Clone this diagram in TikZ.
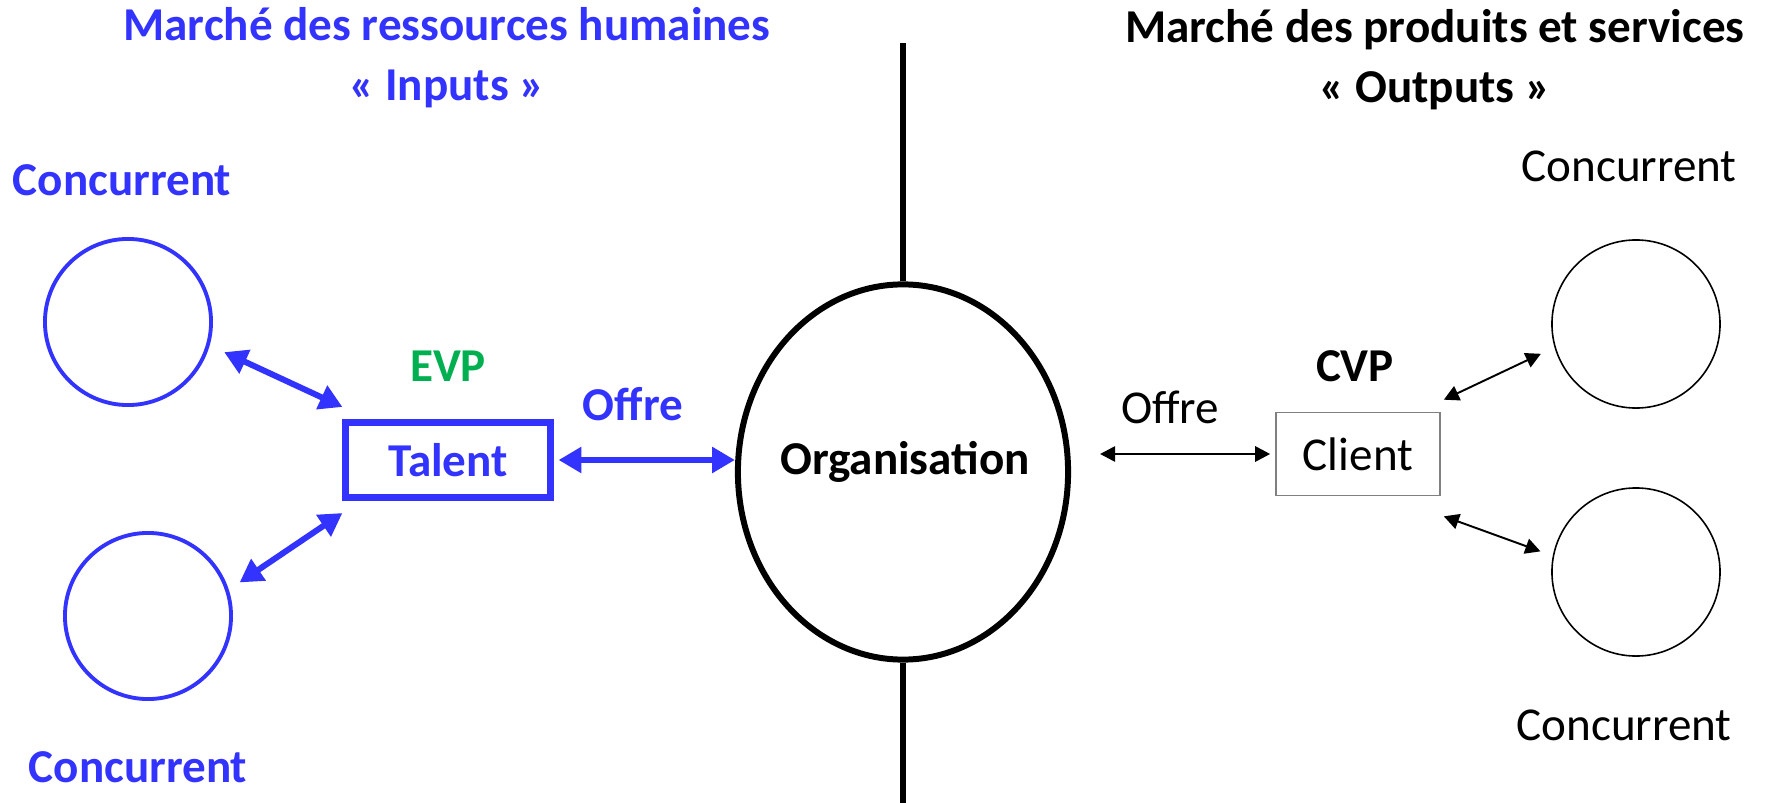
\documentclass[tikz,border=0pt]{standalone}
\usepackage{fontspec}
\setmainfont{Carlito}
\usetikzlibrary{arrows.meta,shapes.geometric}
\definecolor{hrblue}{HTML}{3333FF}
\definecolor{evpgreen}{HTML}{00B050}

\begin{document}
\begin{tikzpicture}[x=0.01cm,y=-0.01cm,
    every node/.style={font=\fontsize{13.4}{17}\selectfont,inner sep=0pt},
    hrtext/.style={hrblue,font=\fontsize{13.4}{17}\selectfont\bfseries},
    hrcircle/.style={circle,draw=hrblue,line width=1.1pt,minimum size=1.66cm},
    mkcircle/.style={circle,draw=black,line width=0.45pt,minimum size=1.68cm},
    hrarrow/.style={hrblue,line width=1.7pt,{Triangle[length=6.5pt,width=7.1pt]}-{Triangle[length=6.5pt,width=7.1pt]}},
    mkarrow/.style={black,line width=0.55pt,{Triangle[length=4.3pt,width=4.4pt]}-{Triangle[length=4.3pt,width=4.4pt]}}]

    \useasboundingbox (0,0) rectangle (1768,803);

    %%%%%%%%%%%%%%%%%%%%%%%%%%%%%%%%%%%%%%%%%%%%%%%%%%%%%%

    % market titles
    \node[hrtext,align=center] (hrtitle) at (447,58) {Marché des ressources humaines\\« Inputs »};
    \node[font=\fontsize{13.4}{17}\selectfont\bfseries,align=center] (mktitle) at (1435,60) {Marché des produits et services\\« Outputs »};

    %%%%%%%%%%%%%%%%%%%%%%%%%%%%%%%%%%%%%%%%%%%%%%%%%%%%%%

    % organisation and the border between both markets
    \node[ellipse,draw,line width=1.7pt,minimum width=3.30cm,minimum height=3.75cm] (org) at (903,472) {};
    \node[font=\fontsize{13.4}{17}\selectfont\bfseries] (orgtext) at (905,462) {Organisation};
    \coordinate (vtop) at (903,43);
    \coordinate (vbot) at (903,803);
    \draw[line width=1.7pt] (vtop) -- (org.north);
    \draw[line width=1.7pt] (org.south) -- (vbot);

    %%%%%%%%%%%%%%%%%%%%%%%%%%%%%%%%%%%%%%%%%%%%%%%%%%%%%%

    % human resources market
    \node[hrtext] (conctl) at (122,180) {Concurrent};
    \node[hrcircle] (circtl) at (128,322) {};
    \node[hrcircle] (circbl) at (148,616) {};
    \node[hrtext] (concbl) at (138,767) {Concurrent};

    % talent and its value proposition
    \node[hrtext,text=evpgreen] (evp) at (448,366) {EVP};
    \node[hrtext,draw=hrblue,line width=2pt,minimum width=2.04cm,minimum height=0.75cm] (talent) at (448,460) {Talent};
    \node[hrtext] (offrehr) at (633,404) {Offre};

    \draw[hrarrow,shorten <=0.16cm] (circtl.-16) to ([shift={(0,-12)}]talent.north west);
    \draw[hrarrow,shorten <=0.13cm] (circbl.18) to ([shift={(0,12)}]talent.south west);
    \draw[hrarrow,shorten <=0.05cm] (talent.east) to (org.west |- talent.east);

    %%%%%%%%%%%%%%%%%%%%%%%%%%%%%%%%%%%%%%%%%%%%%%%%%%%%%%

    % products and services market
    \node (offremk) at (1170,407) {Offre};
    \node[font=\fontsize{13.4}{17}\selectfont\bfseries] (cvp) at (1355,366) {CVP};
    \node[draw=gray,line width=0.45pt,minimum width=1.64cm,minimum height=0.83cm] (client) at (1358,454) {Client};

    \node (conctr) at (1629,166) {Concurrent};
    \node[mkcircle] (circtr) at (1636,324) {};
    \node[mkcircle] (circbr) at (1636,572) {};
    \node (concbr) at (1624,725) {Concurrent};

    \draw[mkarrow,shorten <=0.29cm,shorten >=0.05cm] (org.east |- client.west) to (client.west);
    \draw[mkarrow,shorten >=0.15cm] ([shift={(3,-12)}]client.north east) to (circtr.196);
    \draw[mkarrow,shorten >=0.13cm] ([shift={(3,20)}]client.south east) to (circbr.169);

\end{tikzpicture}
\end{document}
